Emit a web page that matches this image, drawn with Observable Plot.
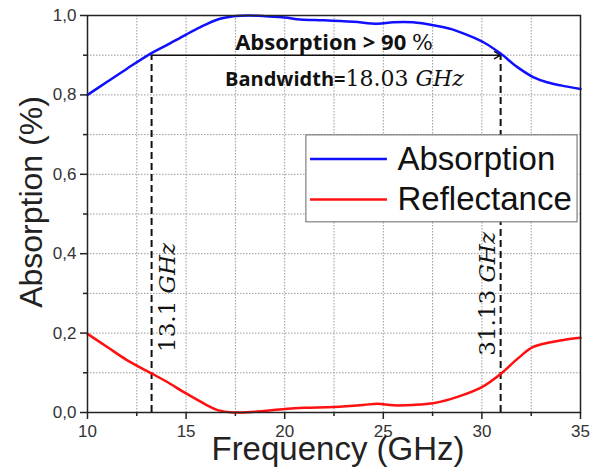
<!DOCTYPE html>
<html><head><meta charset="utf-8">
<script src="https://cdn.jsdelivr.net/npm/d3@7"></script>
<script src="https://cdn.jsdelivr.net/npm/@observablehq/plot@0.6"></script>
<style>body{margin:0;background:#fff;} svg{display:block;}</style>
</head><body><div id="chart"></div>
<script>
const absFreq = [10, 11, 12, 13.2, 14, 15, 15.7, 16.6, 17.4, 18.2, 19.1, 20, 20.8, 22, 23.5, 24.7, 25.5, 26.5, 27.6, 28.5, 29.3, 30.1, 30.95, 31.8, 32.6, 33.3, 34, 35];
const absVal  = [0.80, 0.833, 0.866, 0.904, 0.925, 0.952, 0.97, 0.99, 0.998, 1.0, 0.998, 0.995, 0.99, 0.988, 0.984, 0.979, 0.983, 0.983, 0.975, 0.965, 0.95, 0.932, 0.904, 0.87, 0.845, 0.832, 0.824, 0.815];
const refFreq = [10, 11, 12, 13.3, 14, 15, 16, 16.6, 17.4, 18.5, 20, 21, 22.5, 24, 24.7, 25.5, 26.5, 27.6, 28.8, 30, 30.95, 31.8, 32.6, 33.5, 34.2, 35];
const refVal  = [0.198, 0.165, 0.132, 0.097, 0.078, 0.048, 0.02, 0.006, 0.0, 0.002, 0.009, 0.012, 0.014, 0.019, 0.022, 0.018, 0.019, 0.024, 0.04, 0.064, 0.097, 0.135, 0.165, 0.177, 0.183, 0.188];
const bandEdges = [13.25, 30.95];
const threshold = 0.9;
const xMajor = [10, 15, 20, 25, 30, 35];
const xMinor = [12.5, 17.5, 22.5, 27.5, 32.5];
const yMajor = [0, 0.2, 0.4, 0.6, 0.8, 1.0];
const yMinor = [0.1, 0.3, 0.5, 0.7, 0.9];
const seriesNames = ["Absorption", "Reflectance"];
const seriesColors = ["#1010ff", "#ff0f0f"];

const absData = absFreq.map((f, i) => ({f, v: absVal[i]}));
const refData = refFreq.map((f, i) => ({f, v: refVal[i]}));
const xGrid = d3.range(10, 35.01, 2.5);
const yGrid = d3.range(0, 1.001, 0.1);

const sans = "'Liberation Sans', Arial, sans-serif";
const chart = Plot.plot({
  width: 601, height: 467,
  marginLeft: 87, marginRight: 21, marginTop: 15, marginBottom: 55,
  style: {fontFamily: sans, background: "#fff", color: "#333"},
  x: {domain: [10, 35]},
  y: {domain: [0, 1]},
  marks: [
    Plot.gridX(xGrid, {stroke: "#9a9a9a", strokeOpacity: 1, strokeDasharray: "1.5,1.5"}),
    Plot.gridY(yGrid, {stroke: "#9a9a9a", strokeOpacity: 1, strokeDasharray: "1.5,1.5"}),
    Plot.axisX(xMajor, {tickSize: 7, tickPadding: 5, fontSize: 17, label: null, stroke: "#222", strokeWidth: 1.5}),
    Plot.axisX(xMinor, {tickSize: 4, text: null, label: null, stroke: "#222", strokeWidth: 1.5}),
    Plot.axisY(yMajor, {tickSize: 7, tickPadding: 4, fontSize: 17, label: null, stroke: "#222", strokeWidth: 1.5,
      tickFormat: d => d.toFixed(1).replace(".", ",")}),
    Plot.axisY(yMinor, {tickSize: 4, text: null, label: null, stroke: "#222", strokeWidth: 1.5}),
    Plot.ruleX(bandEdges, {y1: 0, y2: threshold, stroke: "#111", strokeWidth: 2, strokeDasharray: "7,4"}),
    Plot.arrow([0], {x1: bandEdges[0], x2: bandEdges[1], y1: threshold, y2: threshold, stroke: "#111", strokeWidth: 1.5, headLength: 7}),
    Plot.line(absData, {x: "f", y: "v", stroke: seriesColors[0], strokeWidth: 2.5, curve: "catmull-rom"}),
    Plot.line(refData, {x: "f", y: "v", stroke: seriesColors[1], strokeWidth: 2.5, curve: "catmull-rom"}),
    Plot.text(["ABSLABEL"], {x: 22.5, y: 0.932, fontSize: 22, fill: "#111"}),
    Plot.text(["BWLABEL"], {x: 23.03, y: 0.840, fontSize: 22, fill: "#111"}),
    Plot.text(["EDGE1"], {x: 14.08, y: 0.29, rotate: -90, fontSize: 23, fill: "#111"}),
    Plot.text(["EDGE2"], {x: 30.31, y: 0.299, rotate: -90, fontSize: 23, fill: "#111"}),
    // legend
    Plot.rect([0], {x1: 21.1, x2: 34.85, y1: 0.479, y2: 0.698, fill: "#fff", stroke: "#666", strokeWidth: 1}),
    Plot.ruleY([0.6385], {x1: 21.31, x2: 25.21, stroke: seriesColors[0], strokeWidth: 2.5}),
    Plot.ruleY([0.5365], {x1: 21.31, x2: 25.21, stroke: seriesColors[1], strokeWidth: 2.5}),
    Plot.text([seriesNames[0]], {x: 25.72, y: 0.6385, textAnchor: "start", lineAnchor: "middle", fontSize: 33, fill: "#111"}),
    Plot.text([seriesNames[1]], {x: 25.72, y: 0.5365, textAnchor: "start", lineAnchor: "middle", fontSize: 33, fill: "#111"}),
    // axis labels
    Plot.text(["Frequency (GHz)"], {frameAnchor: "bottom", textAnchor: "middle", lineAnchor: "middle", dx: 4, dy: 37, fontSize: 33, fill: "#222"}),
    Plot.text(["Absorption (%)"], {frameAnchor: "left", textAnchor: "middle", lineAnchor: "middle", dx: -56, dy: -12, rotate: -90, fontSize: 32, fill: "#222"}),
    Plot.frame({stroke: "#222", strokeWidth: 1.5})
  ]
});
document.getElementById("chart").append(chart);

const serif = "'DejaVu Serif', 'Liberation Serif', serif";
const bold = "'Open Sans', 'DejaVu Sans', sans-serif";
function rich(key, parts) {
  chart.querySelectorAll("text").forEach(t => {
    if (t.textContent === key) {
      t.textContent = "";
      for (const [s, fam, weight, style, size] of parts) {
        const ts = document.createElementNS("http://www.w3.org/2000/svg", "tspan");
        ts.textContent = s;
        ts.setAttribute("font-family", fam);
        ts.setAttribute("font-weight", weight);
        ts.setAttribute("font-style", style);
        ts.setAttribute("font-size", size);
        t.append(ts);
      }
    }
  });
}
rich("ABSLABEL", [["Absorption > 90 ", bold, "bold", "normal", 22], ["%", serif, "normal", "normal", 22]]);
rich("BWLABEL", [["Bandwidth=", bold, "bold", "normal", 20], ["18.03 ", serif, "normal", "normal", 22], ["GHz", serif, "normal", "italic", 22]]);
rich("EDGE1", [["13.1 ", serif, "normal", "normal", 23], ["GHz", serif, "normal", "italic", 23]]);
rich("EDGE2", [["31.13 ", serif, "normal", "normal", 23], ["GHz", serif, "normal", "italic", 23]]);
</script>
</body></html>
